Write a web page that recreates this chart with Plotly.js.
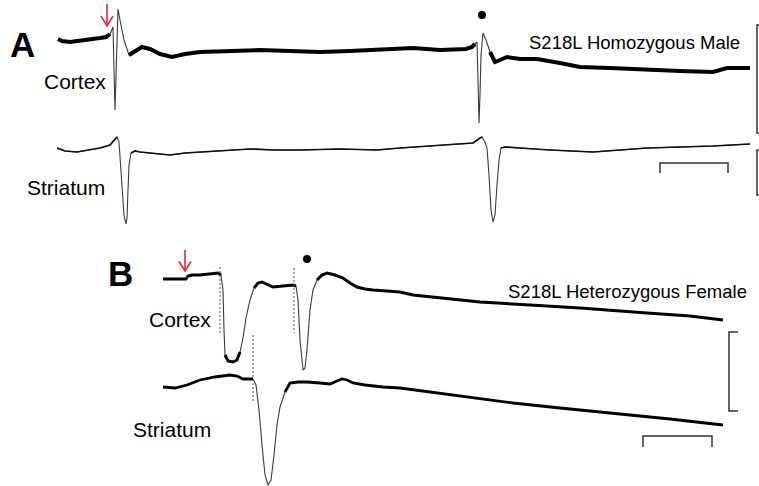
<!DOCTYPE html>
<html><head><meta charset="utf-8">
<script src="https://cdn.plot.ly/plotly-3.0.1.min.js"></script>
<style>html,body{margin:0;padding:0;background:#fff}#c{width:759px;height:486px}</style>
</head><body><div id="c"></div>
<script>
// ---- Panel A: cortex trace (time, potential) in figure units
const aCortexT = [58,62,70,80,90,100,106,110,112,113,114,115,116,117,118,120,124,129,134,142,150,160,172,185,200,230,260,290,320,350,380,413,440,466,472,475,477,478,479,480,481,483,486,490,495,500,507,520,537,560,580,610,647,680,713,727,750];
const aCortexV = [39,41,42,41,39,38,37,34,28,27,70,110,75,30,9,20,40,55,52,47,49,54,57,54,52,51,50,51,52,51,50,48,50,49,47,44,42,80,123,95,55,33,40,52,62,60,57,59,59,63,67,68,70,71,72,68,68];
const aCortexThick = [[58,110],[129,475],[490,750]];
// ---- Panel A: striatum trace
const aStriT = [57,65,77,90,100,110,114,117,119,120,122,124,126,127,128,129,131,135,140,150,160,170,185,200,225,250,275,300,340,377,400,430,460,473,480,482,485,487,489,491,493,495,497,499,501,505,520,550,593,620,647,680,713,750];
const aStriV = [148,151,152,150,148,145,141,137,142,155,185,215,224,218,190,165,153,151,152,153,154,155,153,152,150,149,150,150,149,150,148,146,144,143,138,137,142,148,175,210,222,215,185,160,148,147,148,150,152,150,148,147,146,144];
const aStriThick = [[57,117],[131,482],[501,750]];
// ---- Panel B: cortex trace
const bCortexT = [163,175,186,188,192,200,210,218,221,223,224,225,228,233,237,240,243,246,250,254,258,262,266,273,283,293,296,298,300,302,303,305,307,310,313,317,322,327,335,343,350,357,365,373,390,400,413,450,480,530,580,647,690,723];
const bCortexV = [279,279,279,276,275,275,274,273,275,290,330,355,361,362,360,352,338,318,300,288,283,282,284,287,286,285,286,300,340,365,370,368,350,310,290,280,275,273,275,278,283,287,289,290,291,292,295,299,302,305,308,313,316,320];
const bCortexThick = [[163,221],[225,240],[254,296],[317,723]];
// ---- Panel B: striatum trace
const bStriT = [163,175,187,195,200,215,230,237,243,250,253,256,259,262,265,268,271,274,277,280,285,290,298,307,320,330,337,342,347,353,365,383,400,430,470,513,560,613,670,723];
const bStriV = [387,388,385,382,380,377,375,376,379,379,379,385,410,445,475,485,480,455,425,407,392,383,382,382,383,384,381,379,380,383,385,387,388,392,397,403,408,413,419,425];
const bStriThick = [[163,253],[285,723]];
// ---- Stimulus onset markers (dashed), spike dots, arrows
const dashX = [220,294,253];
const dashY0 = [267,268,335];
const dashY1 = [333,333,402];
const dotX = [482,307];
const dotY = [15,259];
const arrowX = [107,185];
const arrowTop = [4,250];
const arrowTip = [26,271];
// ---- Scale bars
const vBarX = [757,757,729];
const vBarTop = [25,150,332];
const vBarBot = [133,195,411];
const vBarSerif = [761,761,738];
const hBarX0 = [660,643];
const hBarX1 = [728,712];
const hBarY = [163,436];
const hBarLeg = [173,447];
// ---- Labels
const panelLetters = ['A','B'];
const letterX = [22,120];
const letterY = [44,273];
const regionLabels = ['Cortex','Striatum','Cortex','Striatum'];
const regionX = [42,25,147,131];
const regionY = [81,187,319,429];
const genotypeLabels = ['S218L Homozygous Male','S218L Heterozygous Female'];
const genotypeX = [527,506];
const genotypeY = [42,291];

const traces = [];
function addRecording(T, V, thick, thinW, thickW, color){
  traces.push({x:T, y:V, mode:'lines', line:{color:'#3a3a3a', width:thinW}, hoverinfo:'skip'});
  thick.forEach(r=>{
    const xs=[], ys=[];
    T.forEach((t,i)=>{ if(t>=r[0] && t<=r[1]){ xs.push(t); ys.push(V[i]); } });
    traces.push({x:xs, y:ys, mode:'lines', line:{color:color, width:thickW}, hoverinfo:'skip'});
  });
}
addRecording(aCortexT, aCortexV, aCortexThick, 1.1, 4, '#000');
addRecording(aStriT, aStriV, aStriThick, 1.1, 1.7, '#111');
addRecording(bCortexT, bCortexV, bCortexThick, 1.1, 3, '#000');
addRecording(bStriT, bStriV, bStriThick, 1.1, 2.8, '#000');

dashX.forEach((x,i)=>traces.push({x:[x,x], y:[dashY0[i],dashY1[i]], mode:'lines',
  line:{color:'#555', width:1, dash:'2px,2px'}, hoverinfo:'skip'}));
traces.push({x:dotX, y:dotY, mode:'markers', marker:{color:'#000', size:8}, hoverinfo:'skip'});
arrowX.forEach((x,i)=>{
  const h = (arrowTip[i]-arrowTop[i])*0.45;
  traces.push({x:[x,x,null,x-6,x,x+6], y:[arrowTop[i],arrowTip[i],null,arrowTip[i]-h,arrowTip[i],arrowTip[i]-h],
    mode:'lines', line:{color:'#e8262a', width:1.6}, hoverinfo:'skip'});
});
vBarX.forEach((x,i)=>traces.push({x:[vBarSerif[i],x,x,vBarSerif[i]], y:[vBarTop[i],vBarTop[i],vBarBot[i],vBarBot[i]],
  mode:'lines', line:{color:'#333', width:1.5}, hoverinfo:'skip'}));
hBarX0.forEach((x,i)=>traces.push({x:[x,x,hBarX1[i],hBarX1[i]], y:[hBarLeg[i],hBarY[i],hBarY[i],hBarLeg[i]],
  mode:'lines', line:{color:'#333', width:1.5}, hoverinfo:'skip'}));

const F = 'Arial, "Liberation Sans", sans-serif';
const annotations = [];
panelLetters.forEach((t,i)=>annotations.push({x:letterX[i], y:letterY[i], xref:'x', yref:'y', text:'<b>'+t+'</b>',
  showarrow:false, xanchor:'center', yanchor:'middle', font:{family:F, size:35, color:'#000'}}));
regionLabels.forEach((t,i)=>annotations.push({x:regionX[i], y:regionY[i], xref:'x', yref:'y', text:t,
  showarrow:false, xanchor:'left', yanchor:'middle', font:{family:F, size:21, color:'#000'}}));
genotypeLabels.forEach((t,i)=>annotations.push({x:genotypeX[i], y:genotypeY[i], xref:'x', yref:'y', text:t,
  showarrow:false, xanchor:'left', yanchor:'middle', font:{family:F, size:18.5, color:'#000'}}));

const layout = {
  width:759, height:486, margin:{l:0,r:0,t:0,b:0}, showlegend:false,
  paper_bgcolor:'#fff', plot_bgcolor:'#fff', hovermode:false,
  xaxis:{range:[0,759], visible:false, fixedrange:true},
  yaxis:{range:[486,0], visible:false, fixedrange:true},
  annotations:annotations
};
Plotly.newPlot('c', traces, layout, {staticPlot:true, displayModeBar:false});
</script></body></html>
